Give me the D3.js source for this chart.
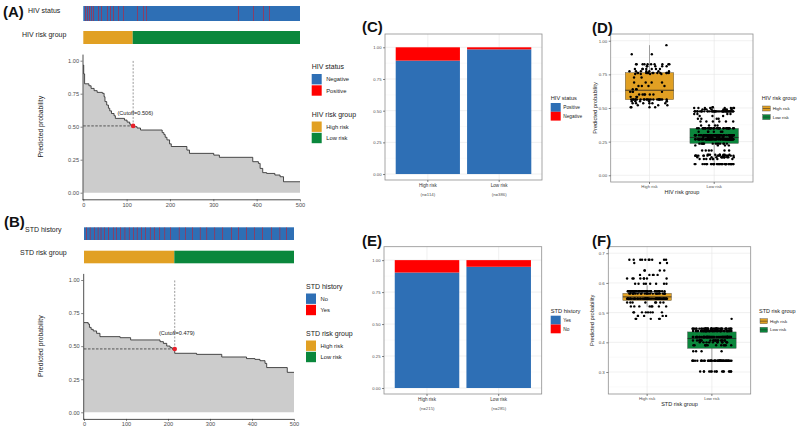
<!DOCTYPE html>
<html>
<head>
<meta charset="utf-8">
<script src="https://cdn.jsdelivr.net/npm/d3@7"></script>
<style>
  body { margin: 0; background: #fff; }
  text { font-family: "Liberation Sans", Arial, sans-serif; }
</style>
</head>
<body>
<svg id="mainsvg" width="800" height="435"></svg>
<script>
// ---------- data ----------
const nTotal = 500;
const riskCats = ['High risk', 'Low risk'];

// (A) predicted probability, individuals sorted high -> low (step starts / values)
const hivStepIdx  = [0, 1, 3, 13, 18, 25, 32, 44, 48, 50, 54, 58, 61, 65, 71, 74, 95, 101, 107, 110, 116, 124, 132, 182, 186, 189, 193, 199, 203, 239, 245, 301, 314, 391, 404, 408, 414, 423, 442, 454, 462];
const hivStepProb = [0.967, 0.90, 0.825, 0.81, 0.79, 0.773, 0.76, 0.753, 0.727, 0.69, 0.664, 0.64, 0.62, 0.60, 0.583, 0.563, 0.55, 0.535, 0.52, 0.506, 0.50, 0.49, 0.475, 0.455, 0.44, 0.42, 0.40, 0.37, 0.35, 0.323, 0.298, 0.285, 0.268, 0.235, 0.222, 0.184, 0.152, 0.146, 0.134, 0.121, 0.083];
const hivPositiveIdx = [4, 9, 14, 19, 23, 35, 42, 55, 62, 69, 81, 92, 125, 138, 146, 358, 392, 415, 429];
const hivHighN = 114;
const hivCutoffX = 115;
const hivCutoffP = 0.506;

// (B)
const stdStepIdx  = [0, 10, 13, 17, 22, 30, 38, 86, 111, 181, 189, 197, 205, 210, 216, 268, 328, 387, 407, 419, 431, 435, 484];
const stdStepProb = [0.678, 0.667, 0.642, 0.627, 0.615, 0.597, 0.572, 0.564, 0.547, 0.534, 0.521, 0.501, 0.489, 0.479, 0.446, 0.438, 0.418, 0.406, 0.40, 0.39, 0.37, 0.338, 0.302];
const stdHistoryIdx = [6, 14, 24, 33, 40, 49, 58, 69, 77, 87, 97, 107, 117, 126, 136, 146, 157, 168, 180, 192, 205,
                       226, 241, 258, 276, 292, 311, 330, 350, 368, 386, 405, 425, 446, 466, 481];
const stdHighN = 215;
const stdCutoffX = 216;
const stdCutoffP = 0.479;

// (C) / (E) share of the red segment in each bar
const hivBarRed = [0.105, 0.016];
const hivBarN = ['(n=114)', '(n=386)'];
const stdBarRed = [0.097, 0.052];
const stdBarN = ['(n=215)', '(n=285)'];

// (D) / (F) box statistics: [lower whisker, q1, median, q3, upper whisker]
const hivBoxStats = [[0.506, 0.562, 0.632, 0.763, 0.967], [0.083, 0.237, 0.281, 0.348, 0.50]];
const stdBoxStats = [[0.52, 0.541, 0.553, 0.565, 0.592], [0.30, 0.38, 0.413, 0.435, 0.446]];

// ---------- styling ----------
const colBlue = '#2E6FB5';
const colRed = '#FF0000';
const colOrange = '#E1A023';
const colGreen = '#0A873C';

const svg = d3.select('#mainsvg');
svg.append('rect').attr('width', 800).attr('height', 435).attr('fill', '#fff');

// individual probability from the step table
const expandSteps = (idx, prob) => d3.range(nTotal).map(i => prob[d3.bisectRight(idx, i) - 1]);
const hivProb = expandSteps(hivStepIdx, hivStepProb);
const stdProb = expandSteps(stdStepIdx, stdStepProb);

// fixed (hash based) horizontal spread for the jittered dots, in [-1, 1]
const spread = k => {
    const s = Math.sin((k + 1) * 12.9898) * 43758.5453;
    return (s - Math.floor(s)) * 2 - 1;
};

const styleAxis = function(sel, fs, domainCol) {
    sel.attr('font-size', fs).attr('font-family', '"Liberation Sans", Arial, sans-serif');
    sel.select('.domain').attr('stroke', domainCol).attr('stroke-width', 0.8);
    sel.selectAll('.tick line').attr('stroke', '#333').attr('stroke-width', 0.6);
    sel.selectAll('.tick text').attr('fill', '#4d4d4d');
};

const panelLetter = (txt, x, y) => svg.append('text').text(txt)
    .attr('x', x).attr('y', y)
    .attr('font-family', '"Liberation Serif", "Times New Roman", serif')
    .attr('font-weight', 'bold').attr('font-size', 15).attr('fill', '#111');

// legend with square keys
const squareLegend = function(g, lx, ty, title, items, o) {
    g.append('text').text(title).attr('x', lx).attr('y', ty)
        .attr('font-size', o.titleSize).attr('fill', '#222');
    items.forEach((it, i) => {
        const ky = ty + o.gap + i * o.step;
        g.append('rect').attr('x', lx).attr('y', ky).attr('width', o.kw).attr('height', o.kh).attr('fill', it[1]);
        g.append('text').text(it[0]).attr('x', lx + o.kw + o.pad).attr('y', ky + o.kh / 2)
            .attr('dy', '0.35em').attr('font-size', o.labelSize).attr('fill', '#222');
    });
};

// ---------- (A)/(B) sorted probability with strips ----------
const drawCurvePanel = function(c) {
    const g = svg.append('g');
    const x = d3.scaleLinear().domain([0, nTotal]).range([c.left, c.right]);
    const y = d3.scaleLinear().domain([-0.05, 1.05]).range([c.bottom, c.top]);

    // status strip
    g.append('rect').attr('x', x(0)).attr('y', c.statusY).attr('width', x(nTotal) - x(0))
        .attr('height', c.statusH).attr('fill', colBlue);
    g.selectAll('.mark').data(c.marks).join('rect')
        .attr('x', d => x(d)).attr('y', c.statusY)
        .attr('width', x(1) - x(0)).attr('height', c.statusH).attr('fill', colRed);
    // risk group strip
    g.append('rect').attr('x', x(0)).attr('y', c.riskY).attr('width', x(c.highN) - x(0))
        .attr('height', c.riskH).attr('fill', colOrange);
    g.append('rect').attr('x', x(c.highN)).attr('y', c.riskY).attr('width', x(nTotal) - x(c.highN))
        .attr('height', c.riskH).attr('fill', colGreen);
    g.append('text').text(c.statusLabel).attr('x', c.statusLabelX).attr('y', c.statusLabelY)
        .attr('font-size', 7).attr('fill', '#222');
    g.append('text').text(c.riskLabel).attr('x', c.riskLabelX).attr('y', c.riskLabelY)
        .attr('font-size', 7).attr('fill', '#222');

    // step area
    const pts = c.stepIdx.map((s, i) => ({ x: s, p: c.stepProb[i] }));
    pts.push({ x: nTotal, p: c.stepProb[c.stepProb.length - 1] });
    g.append('path').datum(pts)
        .attr('d', d3.area().x(d => x(d.x)).y0(y(0)).y1(d => y(d.p)).curve(d3.curveStepAfter))
        .attr('fill', '#CCCCCC');
    g.append('path').datum(pts)
        .attr('d', d3.line().x(d => x(d.x)).y(d => y(d.p)).curve(d3.curveStepAfter))
        .attr('fill', 'none').attr('stroke', '#222').attr('stroke-width', 0.8);

    // cutoff
    g.append('line').attr('x1', x(0)).attr('x2', x(c.cutX)).attr('y1', y(c.cutP)).attr('y2', y(c.cutP))
        .attr('stroke', '#222').attr('stroke-width', 0.7).attr('stroke-dasharray', '2.5,1.5');
    g.append('line').attr('x1', x(c.cutX)).attr('x2', x(c.cutX)).attr('y1', y(c.cutP)).attr('y2', y(1))
        .attr('stroke', '#808080').attr('stroke-width', 0.8).attr('stroke-dasharray', '2,1.5');
    g.append('circle').attr('cx', x(c.cutX)).attr('cy', y(c.cutP)).attr('r', 2.3).attr('fill', '#E8202A');
    g.append('text').text(`(Cutoff=${c.cutP.toFixed(3)})`)
        .attr('x', x(c.cutX + 5)).attr('y', y(0.6)).attr('dy', '0.35em')
        .attr('text-anchor', 'middle').attr('font-size', 5.6).attr('fill', '#222');

    // axes
    const yAxisGroup = g.append('g').attr('transform', `translate(${c.left - 0.8},0)`)
        .call(d3.axisLeft(y).tickValues([0, 0.25, 0.5, 0.75, 1]).tickFormat(d3.format('.2f'))
            .tickSize(2).tickSizeOuter(0).tickPadding(1.5));
    styleAxis(yAxisGroup, 5.6, '#222');
    const xAxisGroup = g.append('g').attr('transform', `translate(0,${c.bottom})`)
        .call(d3.axisBottom(x).tickValues([0, 100, 200, 300, 400, 500]).tickFormat(d3.format('d'))
            .tickSize(2).tickSizeOuter(0).tickPadding(1.5));
    xAxisGroup.select('.domain').attr('d', `M${c.left - 0.8},0.5H${c.right}`);
    styleAxis(xAxisGroup, 5.6, '#222');
    g.append('text').text('Predicted probability')
        .attr('transform', `translate(${c.yTitleX},${(c.top + c.bottom) / 2}) rotate(-90)`)
        .attr('text-anchor', 'middle').attr('font-size', 6.8).attr('fill', '#222');

    // legends
    const lo = { titleSize: 7, labelSize: 5.8, kw: 10, kh: 10.4, step: 11.3, gap: 5, pad: 4.5 };
    squareLegend(g, c.legX, c.legY1, c.legTitle1, c.legItems1, lo);
    squareLegend(g, c.legX, c.legY2, c.legTitle2, [['High risk', colOrange], ['Low risk', colGreen]], lo);
};

// ---------- (C)/(E) stacked bars ----------
const drawGrid = function(g, x, y, c, major, minor) {
    g.selectAll('.minor').data(minor).join('line')
        .attr('x1', c.left).attr('x2', c.right).attr('y1', d => y(d)).attr('y2', d => y(d))
        .attr('stroke', '#f3f3f3').attr('stroke-width', 0.4);
    g.selectAll('.major').data(major).join('line')
        .attr('x1', c.left).attr('x2', c.right).attr('y1', d => y(d)).attr('y2', d => y(d))
        .attr('stroke', '#e6e6e6').attr('stroke-width', 0.6);
    g.selectAll('.vmajor').data(riskCats).join('line')
        .attr('x1', d => x(d) + x.bandwidth() / 2).attr('x2', d => x(d) + x.bandwidth() / 2)
        .attr('y1', c.top).attr('y2', c.bottom)
        .attr('stroke', '#e6e6e6').attr('stroke-width', 0.6);
};

const drawBarPanel = function(c) {
    const g = svg.append('g');
    const x = d3.scaleBand().domain(riskCats).range([c.left, c.right]).paddingInner(0.1).paddingOuter(0.15);
    const y = d3.scaleLinear().domain([-0.047, 1.105]).range([c.bottom, c.top]);
    drawGrid(g, x, y, c, [0, 0.25, 0.5, 0.75, 1], [0.125, 0.375, 0.625, 0.875]);

    const bars = riskCats.map((cat, i) => ({ cat: cat, red: c.redShare[i] }));
    g.selectAll('.blue').data(bars).join('rect')
        .attr('x', d => x(d.cat)).attr('width', x.bandwidth())
        .attr('y', d => y(1 - d.red)).attr('height', d => y(0) - y(1 - d.red))
        .attr('fill', colBlue);
    g.selectAll('.red').data(bars).join('rect')
        .attr('x', d => x(d.cat)).attr('width', x.bandwidth())
        .attr('y', y(1)).attr('height', d => y(1 - d.red) - y(1))
        .attr('fill', colRed);

    g.append('rect').attr('x', c.left).attr('y', c.top).attr('width', c.right - c.left)
        .attr('height', c.bottom - c.top).attr('fill', 'none').attr('stroke', '#8f8f8f').attr('stroke-width', 0.8);

    const yAxisGroup = g.append('g').attr('transform', `translate(${c.left},0)`)
        .call(d3.axisLeft(y).tickValues([0, 0.25, 0.5, 0.75, 1]).tickFormat(d3.format('.2f'))
            .tickSize(2).tickPadding(1.5));
    yAxisGroup.select('.domain').remove();
    styleAxis(yAxisGroup, 4.2, '#333');
    const xAxisGroup = g.append('g').attr('transform', `translate(0,${c.bottom})`)
        .call(d3.axisBottom(x).tickSize(2).tickPadding(2));
    xAxisGroup.select('.domain').remove();
    styleAxis(xAxisGroup, 4.6, '#333');
    xAxisGroup.selectAll('.tick text').attr('fill', '#333');
    g.selectAll('.ntext').data(riskCats).join('text')
        .text((d, i) => c.nLabels[i])
        .attr('x', d => x(d) + x.bandwidth() / 2).attr('y', c.bottom + 16)
        .attr('text-anchor', 'middle').attr('font-size', 4.3).attr('fill', '#555');

    const lo = { titleSize: 5.7, labelSize: 4.8, kw: 10, kh: 8.8, step: 8.8, gap: 3, pad: 2.5 };
    squareLegend(g, c.legX, c.legY, c.legTitle, c.legItems, lo);
};

// ---------- (D)/(F) box plots with jittered points ----------
const drawBoxPanel = function(c) {
    const g = svg.append('g');
    const x = d3.scaleBand().domain(riskCats).range([c.left, c.right]).paddingInner(0.25).paddingOuter(0.225);
    const y = d3.scaleLinear().domain(c.yDomain).range([c.bottom, c.top]);
    drawGrid(g, x, y, c, c.major, c.minor);

    const fills = [colOrange, colGreen];
    riskCats.forEach((cat, i) => {
        const s = c.stats[i];
        const cx = x(cat) + x.bandwidth() / 2;
        g.append('line').attr('x1', cx).attr('x2', cx).attr('y1', y(s[0])).attr('y2', y(s[4]))
            .attr('stroke', '#666').attr('stroke-width', 0.6);
        g.append('rect').attr('x', x(cat)).attr('width', x.bandwidth())
            .attr('y', y(s[3])).attr('height', y(s[1]) - y(s[3]))
            .attr('fill', fills[i]).attr('stroke', '#444').attr('stroke-width', 0.4);
        g.append('line').attr('x1', x(cat)).attr('x2', x(cat) + x.bandwidth())
            .attr('y1', y(s[2])).attr('y2', y(s[2]))
            .attr('stroke', '#222').attr('stroke-width', 0.8);
    });

    // jittered individuals (fixed horizontal spread)
    const jw = 0.31 * x.step();
    const pts = c.prob.map((p, i) => {
        const grp = i < c.highN ? 0 : 1;
        return { cat: riskCats[grp], p: p, dx: spread(i) * jw };
    });
    g.selectAll('.pt').data(pts).join('circle')
        .attr('cx', d => x(d.cat) + x.bandwidth() / 2 + d.dx)
        .attr('cy', d => y(d.p)).attr('r', 1.2).attr('fill', '#000');

    g.append('rect').attr('x', c.left).attr('y', c.top).attr('width', c.right - c.left)
        .attr('height', c.bottom - c.top).attr('fill', 'none').attr('stroke', '#8f8f8f').attr('stroke-width', 0.8);

    const yAxisGroup = g.append('g').attr('transform', `translate(${c.left},0)`)
        .call(d3.axisLeft(y).tickValues(c.major).tickFormat(d3.format(c.fmt)).tickSize(2).tickPadding(1.5));
    yAxisGroup.select('.domain').remove();
    styleAxis(yAxisGroup, 4.4, '#333');
    const xAxisGroup = g.append('g').attr('transform', `translate(0,${c.bottom})`)
        .call(d3.axisBottom(x).tickSize(2).tickPadding(1.5));
    xAxisGroup.select('.domain').remove();
    styleAxis(xAxisGroup, 4.2, '#333');

    g.append('text').text('Predicted probability')
        .attr('transform', `translate(${c.left - 14},${(c.top + c.bottom) / 2}) rotate(-90)`)
        .attr('text-anchor', 'middle').attr('font-size', 5.7).attr('fill', '#222');
    g.append('text').text(c.xTitle).attr('x', (c.left + c.right) / 2).attr('y', c.bottom + 11.5)
        .attr('text-anchor', 'middle').attr('font-size', 5.5).attr('fill', '#222');

    // legend with box glyphs
    g.append('text').text(c.xTitle).attr('x', c.legX).attr('y', c.legY)
        .attr('font-size', 5.5).attr('fill', '#222');
    riskCats.forEach((cat, i) => {
        const ky = c.legY + 6 + i * 8.6;
        g.append('rect').attr('x', c.legX + 1).attr('y', ky).attr('width', 7.5).attr('height', 5)
            .attr('fill', fills[i]).attr('stroke', '#444').attr('stroke-width', 0.4);
        g.append('line').attr('x1', c.legX + 1).attr('x2', c.legX + 8.5).attr('y1', ky + 2.5).attr('y2', ky + 2.5)
            .attr('stroke', '#222').attr('stroke-width', 0.5);
        g.append('text').text(cat).attr('x', c.legX + 11).attr('y', ky + 2.5).attr('dy', '0.35em')
            .attr('font-size', 4.4).attr('fill', '#222');
    });
};

// ---------- render ----------
drawCurvePanel({
    left: 83.3, right: 300, top: 54.1, bottom: 199.3,
    statusY: 6, statusH: 15, riskY: 31, riskH: 13,
    marks: hivPositiveIdx, highN: hivHighN,
    stepIdx: hivStepIdx, stepProb: hivStepProb, cutX: hivCutoffX, cutP: hivCutoffP,
    statusLabel: 'HIV status', statusLabelX: 28, statusLabelY: 13,
    riskLabel: 'HIV risk group', riskLabelX: 22, riskLabelY: 36.5,
    yTitleX: 43,
    legX: 311.7, legY1: 69, legY2: 116.5,
    legTitle1: 'HIV status', legItems1: [['Negative', colBlue], ['Positive', colRed]],
    legTitle2: 'HIV risk group'
});
drawCurvePanel({
    left: 84, right: 294, top: 273.4, bottom: 418.9,
    statusY: 227.3, statusH: 12.7, riskY: 250.7, riskH: 12.6,
    marks: stdHistoryIdx, highN: stdHighN,
    stepIdx: stdStepIdx, stepProb: stdStepProb, cutX: stdCutoffX, cutP: stdCutoffP,
    statusLabel: 'STD history', statusLabelX: 25, statusLabelY: 232,
    riskLabel: 'STD risk group', riskLabelX: 20, riskLabelY: 255,
    yTitleX: 43,
    legX: 306, legY1: 288.5, legY2: 335.5,
    legTitle1: 'STD history', legItems1: [['No', colBlue], ['Yes', colRed]],
    legTitle2: 'STD risk group'
});

drawBarPanel({
    left: 385, right: 542, top: 34, bottom: 180,
    redShare: hivBarRed, nLabels: hivBarN,
    legX: 550.7, legY: 100, legTitle: 'HIV status',
    legItems: [['Positive', colBlue], ['Negative', colRed]]
});
drawBarPanel({
    left: 384, right: 541.7, top: 246.7, bottom: 394,
    redShare: stdBarRed, nLabels: stdBarN,
    legX: 550.7, legY: 312.7, legTitle: 'STD history',
    legItems: [['Yes', colBlue], ['No', colRed]]
});

drawBoxPanel({
    left: 610.7, right: 753, top: 34, bottom: 182,
    yDomain: [-0.05, 1.05], major: [0, 0.25, 0.5, 0.75, 1], minor: [0.125, 0.375, 0.625, 0.875], fmt: '.2f',
    stats: hivBoxStats, prob: hivProb, highN: hivHighN,
    xTitle: 'HIV risk group', legX: 761.7, legY: 100
});
drawBoxPanel({
    left: 608.3, right: 750.7, top: 246.7, bottom: 394,
    yDomain: [0.226, 0.722], major: [0.3, 0.4, 0.5, 0.6, 0.7], minor: [0.25, 0.35, 0.45, 0.55, 0.65], fmt: '.1f',
    stats: stdBoxStats, prob: stdProb, highN: stdHighN,
    xTitle: 'STD risk group', legX: 759, legY: 312.7
});

panelLetter('(A)', 3, 17);
panelLetter('(B)', 4, 227);
panelLetter('(C)', 362, 32);
panelLetter('(D)', 592, 33);
panelLetter('(E)', 362, 246);
panelLetter('(F)', 592, 246);
</script>
</body>
</html>
